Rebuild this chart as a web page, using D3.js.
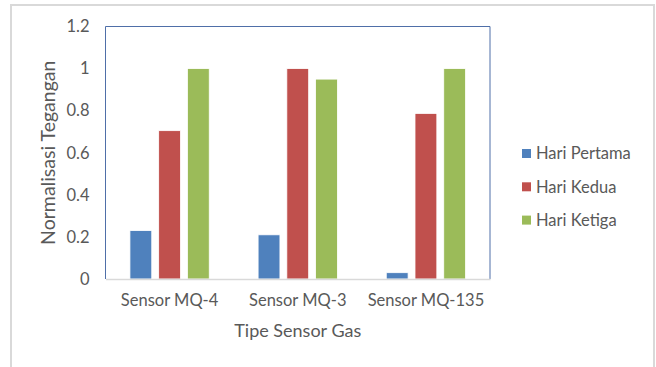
<!DOCTYPE html>
<html>
<head>
  <meta charset="utf-8">
  <style>
    body { margin: 0; background: #fff; }
    svg { display: block; font-family: Lato, "Open Sans", sans-serif; }
  </style>
</head>
<body>
  <div id="chart"></div>
  <script src="https://d3js.org/d3.v7.min.js"></script>
  <script>
    // data
    var categories = ['Sensor MQ-4', 'Sensor MQ-3', 'Sensor MQ-135'];
    var seriesNames = ['Hari Pertama', 'Hari Kedua', 'Hari Ketiga'];
    var hariPertama = [0.23, 0.21, 0.03];
    var hariKedua = [0.705, 1.0, 0.787];
    var hariKetiga = [1.0, 0.95, 1.0];
    var yTicks = [0, 0.2, 0.4, 0.6, 0.8, 1, 1.2];
    var colors = ['#4f81bd', '#c0504d', '#9bbb59'];

    var width = 656, height = 367;
    var plot = {left: 105.5, right: 490, top: 26.5, bottom: 279};
    var labelSize = '16.5px', titleSize = '18px';

    var svg = d3.select('#chart').append('svg')
        .attr('width', width)
        .attr('height', height);

    // outer chart frame
    svg.append('rect')
        .attr('x', 11).attr('y', 5)
        .attr('width', 643).attr('height', 400)
        .attr('fill', '#fff')
        .attr('stroke', '#d9d9d9')
        .attr('stroke-width', 2);

    var table = categories.map(function (c, i) {
      return {cat: c, values: [hariPertama[i], hariKedua[i], hariKetiga[i]]};
    });

    var x0 = d3.scaleBand()
        .domain(categories)
        .range([plot.left, plot.right]);

    var x1 = d3.scaleBand()
        .domain(seriesNames)
        .range([0, x0.bandwidth()])
        .paddingInner(0.24)
        .paddingOuter(0.85);

    var y = d3.scaleLinear()
        .domain([0, 1.2])
        .range([plot.bottom, plot.top]);

    // bars
    svg.append('g')
        .selectAll('g')
        .data(table)
        .join('g')
        .attr('transform', d => 'translate(' + x0(d.cat) + ',0)')
        .selectAll('rect')
        .data(d => d.values.map((v, k) => ({key: seriesNames[k], value: v, k: k})))
        .join('rect')
        .attr('x', d => x1(d.key))
        .attr('y', d => y(d.value))
        .attr('width', x1.bandwidth())
        .attr('height', d => y(0) - y(d.value))
        .attr('fill', d => colors[d.k])
        .attr('stroke', '#fff')
        .attr('stroke-width', 0.8);

    // plot area border (blue), bottom axis line grey
    svg.append('path')
        .attr('d', 'M' + plot.left + ',' + plot.bottom + 'V' + plot.top + 'H' + plot.right + 'V' + plot.bottom)
        .attr('fill', 'none')
        .attr('stroke', '#4f6fa8')
        .attr('stroke-width', 1);

    var xAxis = svg.append('g')
        .attr('transform', 'translate(0,' + plot.bottom + ')')
        .call(d3.axisBottom(x0).tickSize(0).tickPadding(15));
    xAxis.select('.domain').attr('stroke', '#d9d9d9').attr('stroke-width', 1.5);
    xAxis.selectAll('text')
        .attr('fill', '#595959')
        .style('font-size', labelSize)
        .style('font-family', 'Lato, sans-serif');

    var yAxis = svg.append('g')
        .attr('transform', 'translate(' + plot.left + ',0)')
        .call(d3.axisLeft(y).tickValues(yTicks).tickSize(0).tickPadding(16)
            .tickFormat(d => String(d)));
    yAxis.select('.domain').remove();
    yAxis.selectAll('text')
        .attr('fill', '#595959')
        .style('font-size', labelSize)
        .style('font-family', 'Lato, sans-serif');

    // axis titles
    svg.append('text')
        .attr('x', (plot.left + plot.right) / 2)
        .attr('y', 331)
        .attr('dy', '0.35em')
        .attr('text-anchor', 'middle')
        .attr('fill', '#595959')
        .style('font-size', titleSize)
        .text('Tipe Sensor Gas');

    svg.append('text')
        .attr('transform', 'translate(48.5,' + ((plot.top + plot.bottom) / 2) + ') rotate(-90)')
        .attr('dy', '0.35em')
        .attr('text-anchor', 'middle')
        .attr('fill', '#595959')
        .style('font-size', '19.5px')
        .text('Normalisasi Tegangan');

    // legend
    var legend = svg.append('g')
        .selectAll('g')
        .data(seriesNames)
        .join('g')
        .attr('transform', (d, i) => 'translate(522,' + (153.5 + i * 33.3) + ')');
    legend.append('rect')
        .attr('x', 0).attr('y', -4.5)
        .attr('width', 9).attr('height', 9)
        .attr('fill', (d, i) => colors[i]);
    legend.append('text')
        .attr('x', 14)
        .attr('dy', '0.35em')
        .attr('fill', '#595959')
        .style('font-size', labelSize)
        .text(d => d);
  </script>
</body>
</html>
